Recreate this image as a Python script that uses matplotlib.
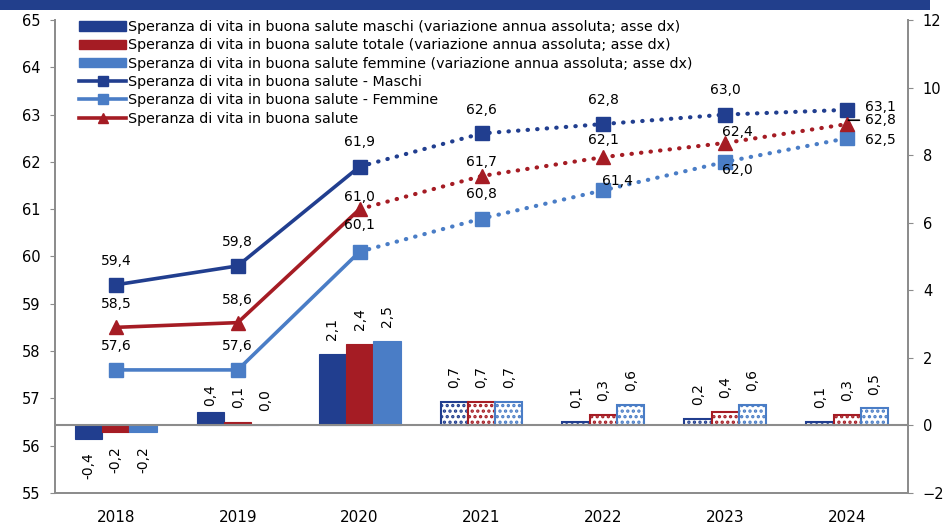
import matplotlib
matplotlib.use("Agg")
import matplotlib.pyplot as plt
import matplotlib.patches as mpatches
from matplotlib.lines import Line2D
import numpy as np

plt.rcParams['font.family'] = ['DejaVu Sans']
plt.rcParams['hatch.linewidth'] = 1.6

years = ["2018", "2019", "2020", "2021", "2022", "2023", "2024"]
var_maschi = [-0.4, 0.4, 2.1, 0.7, 0.1, 0.2, 0.1]
var_totale = [-0.2, 0.1, 2.4, 0.7, 0.3, 0.4, 0.3]
var_femmine = [-0.2, 0.0, 2.5, 0.7, 0.6, 0.6, 0.5]
sv_maschi = [59.4, 59.8, 61.9, 62.6, 62.8, 63.0, 63.1]
sv_femmine = [57.6, 57.6, 60.1, 60.8, 61.4, 62.0, 62.5]
sv_totale = [58.5, 58.6, 61.0, 61.7, 62.1, 62.4, 62.8]

lab_bar_m = "Speranza di vita in buona salute maschi (variazione annua assoluta; asse dx)"
lab_bar_t = "Speranza di vita in buona salute totale (variazione annua assoluta; asse dx)"
lab_bar_f = "Speranza di vita in buona salute femmine (variazione annua assoluta; asse dx)"
lab_line_m = "Speranza di vita in buona salute - Maschi"
lab_line_f = "Speranza di vita in buona salute - Femmine"
lab_line_t = "Speranza di vita in buona salute"

C_M = "#213E8F"
C_T = "#A51C24"
C_F = "#4A7DC6"
GRAY = "#8C8C8C"

def fmt(v):
    return f"{v:.1f}".replace(".", ",")

fig = plt.figure(figsize=(9.46, 5.26), dpi=100)
# banner at top (title cut off in the reference)
fig.patches.append(mpatches.Rectangle((0, 0.981), 0.983, 0.019, transform=fig.transFigure,
                                      facecolor="#223F8C", edgecolor="none", zorder=0))

ax = fig.add_axes([0.058, 0.063, 0.902, 0.899])
ax2 = ax.twinx()
ax.set_zorder(ax2.get_zorder() + 1)
ax.patch.set_visible(False)

x = np.arange(len(years))
n_solid = 3
bw = 0.224
series = [(var_maschi, C_M, -bw), (var_totale, C_T, 0.0), (var_femmine, C_F, bw)]
for k, (vals, col, off) in enumerate(series):
    for i, v in enumerate(vals):
        if i < n_solid:
            ax2.bar(x[i] + off, v, width=bw, color=col, edgecolor=col, linewidth=0.8, zorder=2)
        else:
            ax2.bar(x[i] + off, v, width=bw, facecolor="white", edgecolor=col, hatch="...",
                    linewidth=1.5, zorder=2)
        gap = 4 if (k == 0 and i == 1) else 10
        if v < 0:
            ax2.annotate(fmt(v), (x[i] + off, v), xytext=(0, -gap), textcoords="offset points",
                         rotation=90, ha="center", va="top", fontsize=10)
        else:
            ax2.annotate(fmt(v), (x[i] + off, v), xytext=(0, gap), textcoords="offset points",
                         rotation=90, ha="center", va="bottom", fontsize=10)

ax2.axhline(0, color=GRAY, lw=1.5, zorder=3)
ax2.set_ylim(-2, 12)
ax2.set_yticks(np.arange(-2, 13, 2))

# lines
lines = [(sv_maschi, C_M, "s", 9.5), (sv_femmine, C_F, "s", 9.5), (sv_totale, C_T, "^", 9.5)]
for vals, col, mk, ms in lines:
    ax.plot(x[:n_solid], vals[:n_solid], color=col, lw=2.6, zorder=4)
    ax.plot(x[n_solid - 1:], vals[n_solid - 1:], color=col, lw=3.0, ls=(0, (0.1, 2.2)),
            dash_capstyle="round", zorder=4)
    ax.plot(x, vals, ls="none", marker=mk, ms=ms, color=col, zorder=5)

# label offsets (points) for line values
off_m = [(0, 17), (0, 17), (0, 18), (0, 17), (0, 17), (0, 18), (13, 2)]
off_t = [(0, 17), (0, 16), (0, 9), (0, 10), (0, 12), (9, 8), (13, 3)]
off_f = [(0, 17), (0, 17), (0, 19), (0, 18), (10, 6.5), (9, -6), (13, -1.5)]
for vals, offs in [(sv_maschi, off_m), (sv_totale, off_t), (sv_femmine, off_f)]:
    for i, v in enumerate(vals):
        dx, dy = offs[i]
        ha = "left" if i == len(vals) - 1 else "center"
        ax.annotate(fmt(v), (x[i], v), xytext=(dx, dy), textcoords="offset points",
                    ha=ha, va="center", fontsize=10, zorder=6)
# leader line for total 2024
ax.annotate("", xy=(x[-1] + 0.01, sv_totale[-1] + 0.08), xytext=(x[-1] + 0.1, sv_totale[-1] + 0.08),
            arrowprops=dict(arrowstyle="-", color="black", lw=1.2, shrinkA=0, shrinkB=0), zorder=6)

ax.set_ylim(55, 65)
ax.set_yticks(np.arange(55, 66, 1))
ax.set_xlim(-0.5, len(years) - 0.5)
ax.set_xticks(np.arange(-0.5, len(years), 1.0))
ax.set_xticklabels([])
ax.set_xticks(x, minor=True)
ax.set_xticklabels(years, minor=True, fontsize=11)
ax.tick_params(axis="x", which="minor", length=0, pad=12)
ax.tick_params(axis="x", which="major", length=4, color=GRAY, direction="out")
ax.tick_params(axis="y", length=3.6, color=GRAY, labelsize=10.5, pad=7)
ax2.tick_params(axis="y", length=3.6, color=GRAY, labelsize=10.5, pad=7)
ax2.set_xticks([])

for a in (ax, ax2):
    for s in ["left", "right", "bottom"]:
        a.spines[s].set_color(GRAY)
        a.spines[s].set_linewidth(1.3)
    a.spines["top"].set_visible(False)

handles = [
    mpatches.Patch(color=C_M, label=lab_bar_m),
    mpatches.Patch(color=C_T, label=lab_bar_t),
    mpatches.Patch(color=C_F, label=lab_bar_f),
    Line2D([0], [0], color=C_M, lw=2.6, marker="s", ms=7, label=lab_line_m),
    Line2D([0], [0], color=C_F, lw=2.6, marker="s", ms=7, label=lab_line_f),
    Line2D([0], [0], color=C_T, lw=2.6, marker="^", ms=7, label=lab_line_t),
]
leg = ax.legend(handles=handles, loc="upper left", bbox_to_anchor=(0.0185, 1.018), frameon=False,
                fontsize=10.3, handlelength=3.3, handleheight=0.6, handletextpad=0.1,
                labelspacing=0.3, borderaxespad=0.2)
leg.set_zorder(10)

fig.savefig("out.png", dpi=100)
